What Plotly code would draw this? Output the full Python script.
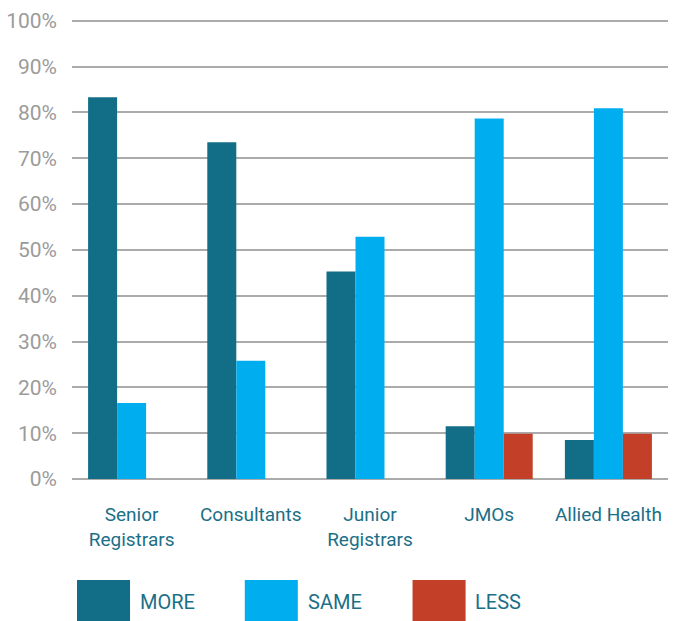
import plotly.graph_objects as go

categories = ["Senior Registrars", "Consultants", "Junior Registrars", "JMOs", "Allied Health"]
tick_labels = ["Senior<br>Registrars", "Consultants", "Junior<br>Registrars", "JMOs", "Allied Health"]
more = [83.3, 73.5, 45.3, 11.5, 8.5]
same = [16.6, 25.8, 52.9, 78.7, 80.9]
less = [None, None, None, 9.9, 9.9]
series_names = ["MORE", "SAME", "LESS"]
colors = ["#126e87", "#00aeef", "#c33f28"]
y_ticks = list(range(0, 101, 10))

FONT = "Roboto, sans-serif"
TEXT_TEAL = "#1b6f87"

fig = go.Figure()
for name, vals, col in zip(series_names, [more, same, less], colors):
    fig.add_trace(go.Bar(x=categories, y=vals, name=name, marker_color=col,
                         marker_line_width=0, showlegend=False))

# Large legend swatches (legend drawn as paper-positioned shapes/text)
sw_x0 = 0.0084
sw_w = 0.089
sw_step = 0.2815
for i, (name, col) in enumerate(zip(series_names, colors)):
    x0 = sw_x0 + i * sw_step
    fig.add_shape(type="rect", xref="paper", yref="paper",
                  x0=x0, x1=x0 + sw_w, y0=-0.3087, y1=-0.2196,
                  fillcolor=col, line_width=0)
    fig.add_annotation(xref="paper", yref="paper", x=x0 + sw_w + 0.013, y=-0.2674,
                       text=name, showarrow=False, xanchor="left", yanchor="middle",
                       font=dict(family=FONT, size=20, color=TEXT_TEAL))

fig.update_layout(
    width=678, height=621,
    margin=dict(l=72, r=10, t=19, b=142, autoexpand=False),
    paper_bgcolor="white", plot_bgcolor="white",
    barmode="group", bargap=0.27, bargroupgap=0,
    font=dict(family=FONT),
    xaxis=dict(tickmode="array", tickvals=categories, ticktext=tick_labels,
               tickfont=dict(family=FONT, size=19, color=TEXT_TEAL),
               showgrid=False, showline=False, zeroline=False, ticks="",
               ticklabelstandoff=22, automargin=False),
    yaxis=dict(range=[0, 100.4], tickmode="array", tickvals=y_ticks,
               ticktext=[f"{v}%" for v in y_ticks],
               tickfont=dict(family=FONT, size=21, color="#9b9b9b"),
               showgrid=True, gridcolor="#ababab", gridwidth=1.5,
               zeroline=True, zerolinecolor="#ababab", zerolinewidth=1.5,
               showline=False, ticks="", ticklabelstandoff=14, automargin=False),
)

fig.write_html("out.html",
               config={"displayModeBar": False},
               post_script="document.body.style.margin='0';document.body.style.overflow='hidden';")
